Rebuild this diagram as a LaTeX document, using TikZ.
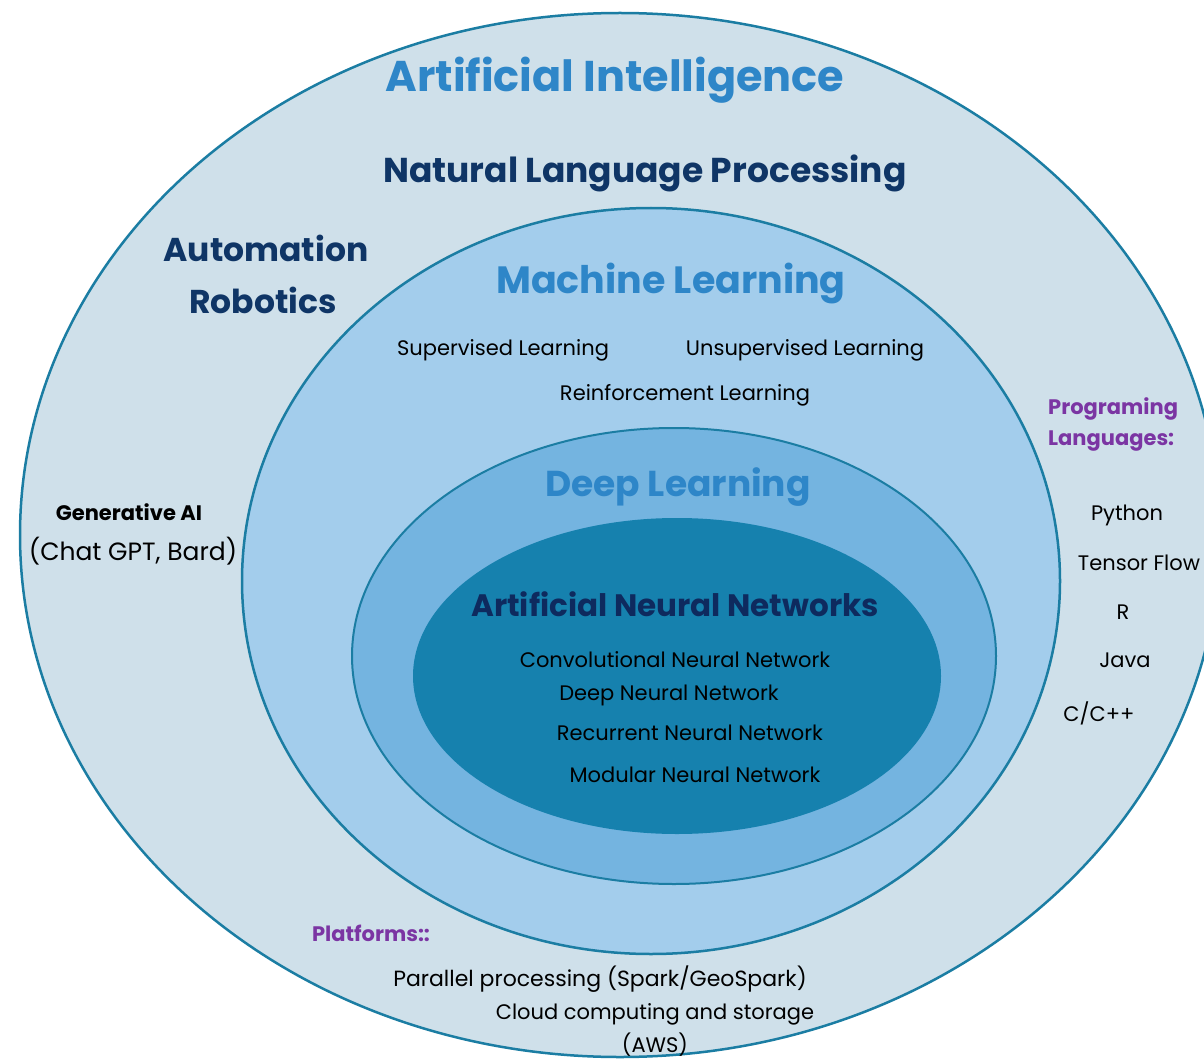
\documentclass[tikz,border=0pt]{standalone}
\usepackage{fontspec}
\setmainfont{Poppins}
\usepackage{tikz}
\usetikzlibrary{shapes.geometric,positioning}
\definecolor{RingLine}{HTML}{1B7DA3}
\definecolor{FillAI}{HTML}{CFE0EA}
\definecolor{FillML}{HTML}{A3CDEC}
\definecolor{FillDL}{HTML}{74B4E0}
\definecolor{FillNN}{HTML}{1681AE}
\definecolor{TitleBlue}{HTML}{2E86C8}
\definecolor{NavyText}{HTML}{0F3566}
\definecolor{DeepNavy}{HTML}{0E2A5E}
\definecolor{TagPurple}{HTML}{7B35A3}
\tikzset{
  RG/.style={ellipse,draw=RingLine,line width=2.5pt,inner sep=0pt},
  HB/.style={font=\fontsize{43}{48}\selectfont\bfseries,text=TitleBlue},
  HM/.style={font=\fontsize{38}{42}\selectfont\bfseries,text=TitleBlue},
  HN/.style={font=\fontsize{33}{38}\selectfont\bfseries,text=NavyText},
  TX/.style={font=\fontsize{21}{25}\selectfont,text=black},
  TP/.style={font=\fontsize{21}{25}\selectfont\bfseries,text=TagPurple}
}
\begin{document}
\begin{tikzpicture}[x=1pt,y=-1pt,every node/.style={inner sep=0pt}]
  \clip (0,0) rectangle (1204,1059);
  \fill[white] (0,0) rectangle (1204,1059);

  % nested rings
  \node[RG,fill=FillAI,minimum width=1200,minimum height=1044] (ai) at (620,535) {};
  \node[RG,fill=FillML,minimum width=818,minimum height=746] (ml) at (651,581) {};
  \node[RG,fill=FillDL,line width=2pt,minimum width=644,minimum height=456] (dl) at (674,656) {};
  \node[ellipse,fill=FillNN,minimum width=528,minimum height=316] (nn) at (677,676) {};

  % artificial intelligence ring
  \node[HB] (aiT) at (615,80) {Artificial Intelligence};
  \node[HN,font=\fontsize{34.5}{40}\selectfont\bfseries] (nlp) at (645,173) {Natural Language Processing};
  \node[HN] (auto) at (266,248) {Automation};
  \node[HN] (robo) at (263,300) {Robotics};
  \node[font=\fontsize{21}{25}\selectfont\bfseries] (gen) at (129,512) {Generative AI};
  \node[TX,font=\fontsize{25}{30}\selectfont] (chat) at (133,551) {(Chat GPT, Bard)};

  \node[TP,anchor=west] (prog) at (1048,409) {Programing};
  \node[TP,anchor=west] (lang) at (1048,441) {Languages:};
  \node[TX] (py) at (1127,515) {Python};
  \node[TX] (tf) at (1139,563) {Tensor Flow};
  \node[TX] (rr) at (1123,612) {R};
  \node[TX] (java) at (1125,660) {Java};
  \node[TX] (cpp) at (1099,713) {C/C++};

  \node[TP] (plat) at (371,933) {Platforms::};
  \node[TX,font=\fontsize{22}{26}\selectfont] (spark) at (600,979) {Parallel processing (Spark/GeoSpark)};
  \node[TX] (cloud) at (655,1014) {Cloud computing and storage};
  \node[TX] (aws) at (655,1045) {(AWS)};

  % machine learning ring
  \node[HM] (mlT) at (671,284) {Machine Learning};
  \node[TX] (sup) at (503,350) {Supervised Learning};
  \node[TX] (uns) at (805,350) {Unsupervised Learning};
  \node[TX] (rl) at (685,395) {Reinforcement Learning};

  % deep learning ring
  \node[HM,font=\fontsize{36}{40}\selectfont\bfseries] (dlT) at (678,487) {Deep Learning};

  % neural networks core
  \node[HN,font=\fontsize{31}{36}\selectfont\bfseries,text=DeepNavy] (nnT) at (675,604) {Artificial Neural Networks};
  \node[TX] (cnn) at (675,660) {Convolutional Neural Network};
  \node[TX] (dnn) at (669,695) {Deep Neural Network};
  \node[TX] (rnn) at (690,733) {Recurrent Neural Network};
  \node[TX] (mnn) at (695,775) {Modular Neural Network};
\end{tikzpicture}
\end{document}
